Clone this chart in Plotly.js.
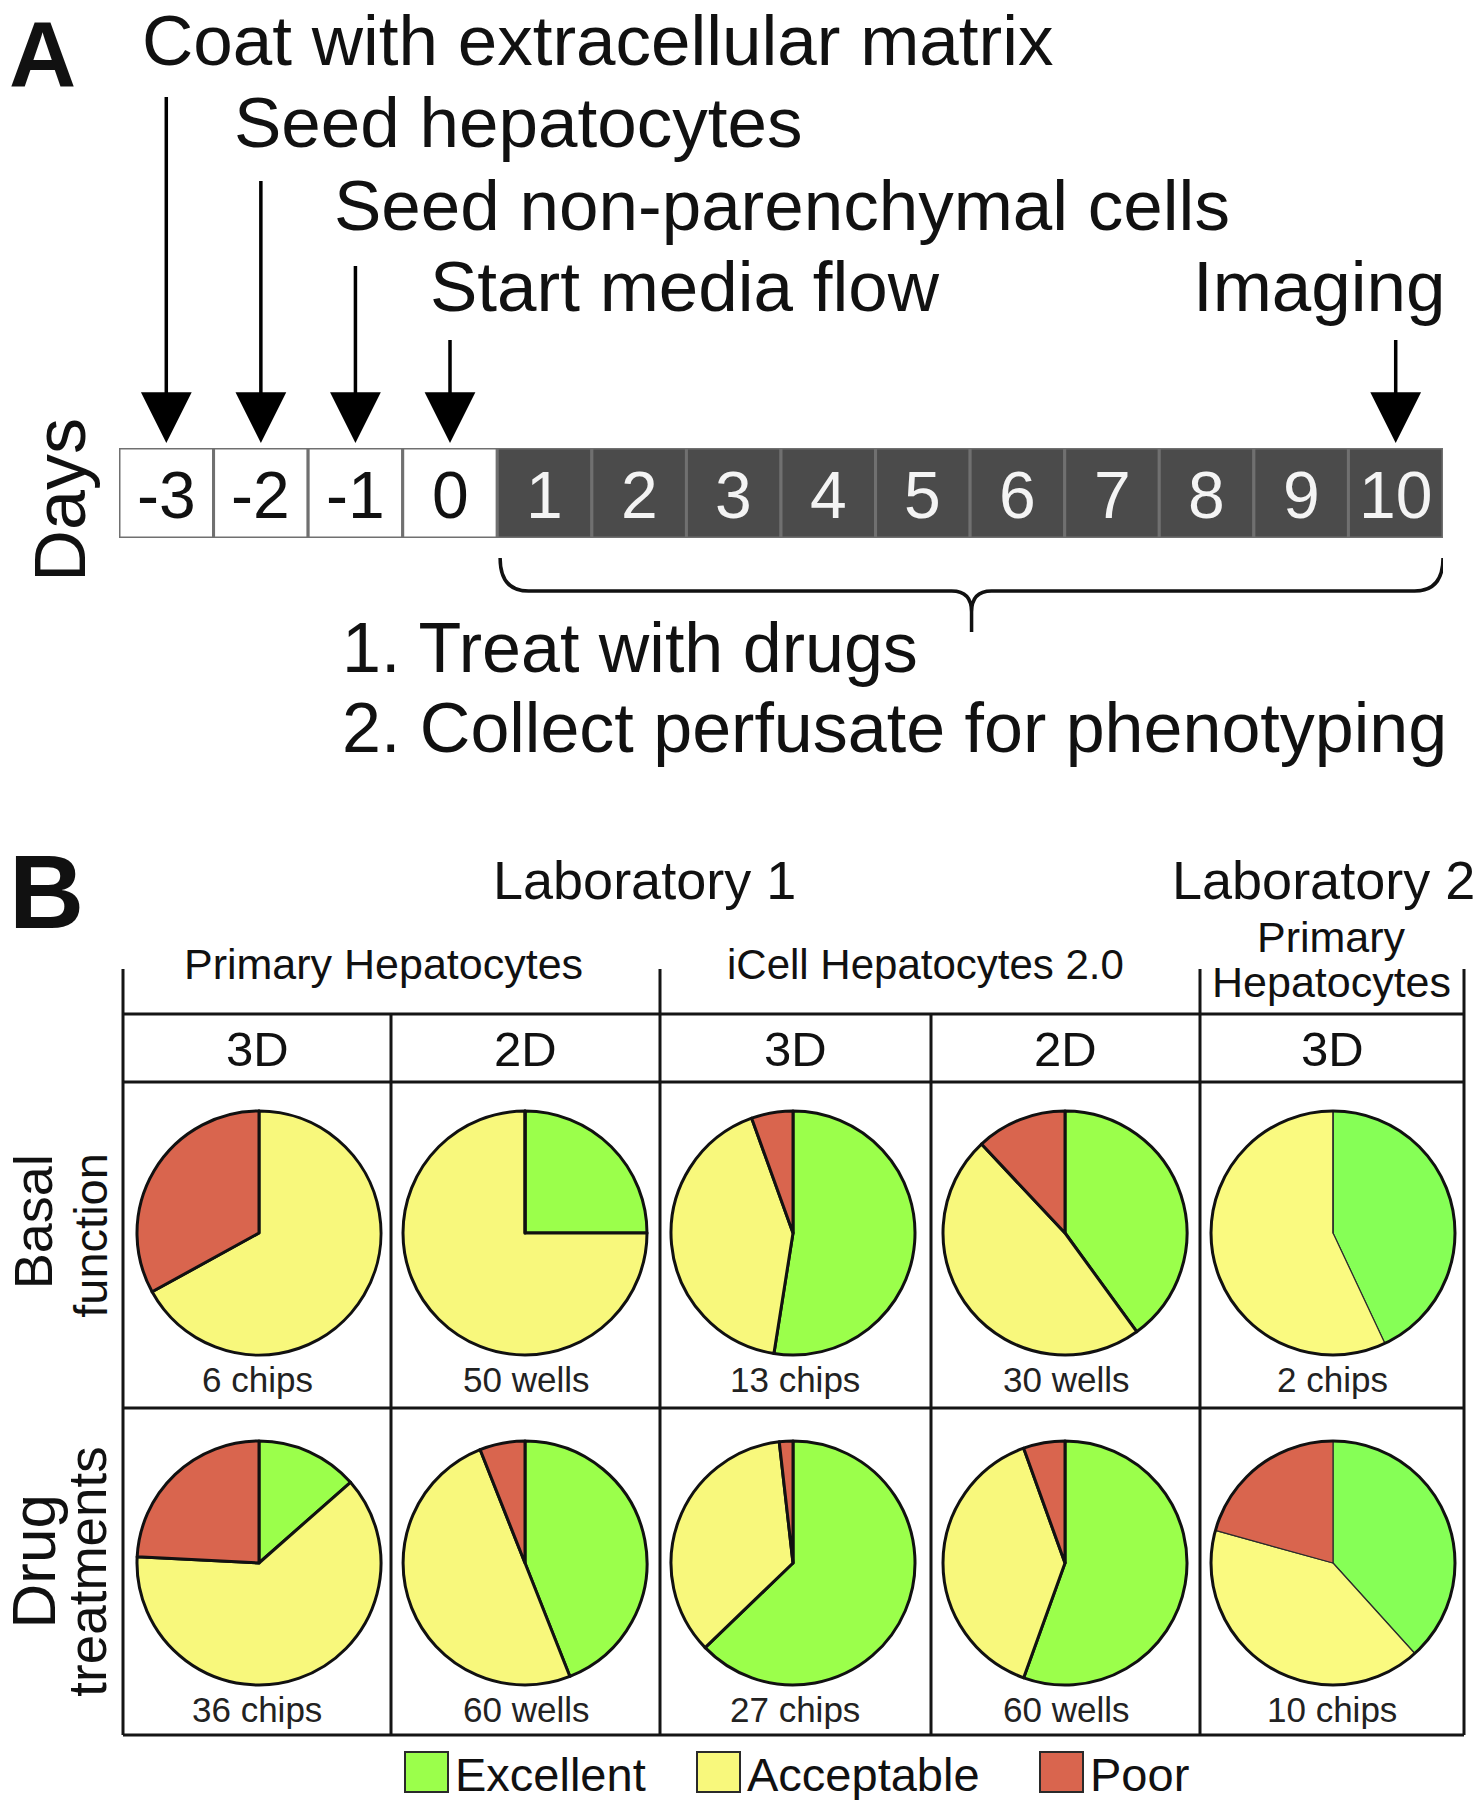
<!DOCTYPE html>
<html>
<head>
<meta charset="utf-8">
<script src="https://cdn.plot.ly/plotly-3.0.1.min.js"></script>
<style>
    html, body { margin: 0; padding: 0; background: #ffffff; }
    #myPlot { width: 1476px; height: 1800px; }
</style>
</head>
<body>
<div id="myPlot"></div>
<script>

// ---- Panel A : timeline ----
const days = [-3, -2, -1, 0, 1, 2, 3, 4, 5, 6, 7, 8, 9, 10];
const dayBarHeight = [1, 1, 1, 1, 1, 1, 1, 1, 1, 1, 1, 1, 1, 1];
const flowStartDay = 1;

const eventDays = [-3, -2, -1, 0, 10];
const eventLabels = ['Coat with extracellular matrix', 'Seed hepatocytes', 'Seed non-parenchymal cells', 'Start media flow', 'Imaging'];

const treatmentRange = [1, 10];
const treatmentSteps = ['1. Treat with drugs', '2. Collect perfusate for phenotyping'];

// ---- Panel B : quality pies ----
const qualityLabels = ['Excellent', 'Acceptable', 'Poor'];
const laboratories = ['Laboratory 1', 'Laboratory 2'];
const cellTypes = ['Primary Hepatocytes', 'iCell Hepatocytes 2.0', 'Primary', 'Hepatocytes'];
const formats = ['3D', '2D', '3D', '2D', '3D'];
const rowNames = [['Basal', 'function'], ['Drug', 'treatments']];

// percent of samples: [Excellent, Acceptable, Poor]
const basalValues = [[0, 67, 33], [25, 75, 0], [52.5, 42, 5.5], [40, 48, 12], [43, 57, 0]];
const drugValues = [[13.5, 62.3, 24.2], [44, 50, 6], [62.8, 35.4, 1.8], [55.5, 39, 5.5], [38.3, 41, 20.7]];
const basalCounts = ['6 chips', '50 wells', '13 chips', '30 wells', '2 chips'];
const drugCounts = ['36 chips', '60 wells', '27 chips', '60 wells', '10 chips'];


// ---- page geometry (pixels) ----
const W = 1476;
const H = 1800;
const FONT = 'Liberation Sans, Arial, Helvetica, sans-serif';

const colorsLab1 = ['#9bff4b', '#f8f87c', '#d9654e'];
const colorsLab2 = ['#86ff56', '#fafa80', '#d9654e'];

const stripLeft = 119;
const stripRight = 1443;
const stripTop = 448;
const stripBottom = 538;
const arrowTailY = [95, 179, 264, 338, 338];
const labelBase = [65, 147, 230, 311, 311];
const labelShift = [-26, -29, -23, -22, 52];

const colEdges = [123, 391, 660, 931, 1200, 1464];
const tableTop = 969;
const groupLine = 1014;
const formatLine = 1082;
const rowSplit = 1408;
const tableBottom = 1735;
const pieCx = [259, 525, 793, 1065, 1333];
const pieCy = [1233, 1563];
const pieR = 122;


function px(x) {
    return x / W;
}

function py(y) {
    return 1 - y / H;
}

// text whose baseline sits at y (page pixels)
function textAt(text, x, base, size, anchor, color) {
    return {
        text: text,
        xref: 'paper', yref: 'paper',
        x: px(x), y: py(base - 0.3465 * size),
        xanchor: anchor, yanchor: 'middle',
        showarrow: false,
        font: { family: FONT, size: size, color: color || '#111111' }
    };
}

// text turned 90 degrees, baseline at x, centered on y
function verticalText(text, xBase, yCenter, size) {
    return {
        text: text,
        xref: 'paper', yref: 'paper',
        x: px(xBase - 0.3465 * size), y: py(yCenter),
        xanchor: 'center', yanchor: 'middle',
        textangle: -90,
        showarrow: false,
        font: { family: FONT, size: size, color: '#111111' }
    };
}

function hLine(x0, x1, y) {
    return { type: 'line', xref: 'paper', yref: 'paper', x0: px(x0), x1: px(x1), y0: py(y), y1: py(y),
        line: { color: '#151515', width: 3 } };
}

function vLine(x, y0, y1) {
    return { type: 'line', xref: 'paper', yref: 'paper', x0: px(x), x1: px(x), y0: py(y0), y1: py(y1),
        line: { color: '#151515', width: 3 } };
}


let traces = [];
let annotations = [];
let shapes = [];


function buildTimeline() {

    traces.push({
        type: 'bar',
        x: days,
        y: dayBarHeight,
        width: 1,
        xaxis: 'x', yaxis: 'y',
        marker: {
            color: days.map(d => d < flowStartDay ? '#ffffff' : '#4b4b4b'),
            line: { color: '#707070', width: 3 }
        },
        cliponaxis: false,
        hoverinfo: 'none',
        showlegend: false
    });

    // day numbers inside the boxes
    days.forEach(function (d) {
        annotations.push({
            text: String(d),
            xref: 'x', yref: 'y',
            x: d, y: 0.5,
            yshift: -2,
            showarrow: false,
            font: { family: FONT, size: 66, color: d < flowStartDay ? '#111111' : '#f4f4f4' }
        });
    });

    // arrows + event text
    eventDays.forEach(function (d, i) {
        annotations.push({
            text: ' ',
            font: { size: 1 },
            xref: 'x', yref: 'y',
            x: d, y: 1,
            ax: 0, ay: arrowTailY[i] - stripTop,
            showarrow: true,
            arrowhead: 2,
            arrowsize: 2.9,
            arrowwidth: 3.5,
            arrowcolor: '#000000',
            standoff: 5
        });

        const isLast = (i === eventDays.length - 1);
        annotations.push({
            text: eventLabels[i],
            xref: 'x', yref: 'paper',
            x: d, xshift: labelShift[i],
            y: py(labelBase[i] - 0.3465 * 71),
            xanchor: isLast ? 'right' : 'left',
            yanchor: 'middle',
            showarrow: false,
            font: { family: FONT, size: 71, color: '#111111' }
        });
    });

    annotations.push(verticalText('Days', 85, 500, 72));

    // curly brace under the flow days
    const x0 = treatmentRange[0] - 0.47;
    const x1 = treatmentRange[1] + 0.5;
    const xm = (x0 + x1) / 2;
    const rc = 0.3;
    const rm = 0.21;
    const yTop = py(558);
    const yLine = py(591);
    const yJoin = py(612);
    const yTip = py(632);
    shapes.push({
        type: 'path',
        xref: 'x', yref: 'paper',
        path: 'M' + x0 + ',' + yTop + ' Q' + x0 + ',' + yLine + ' ' + (x0 + rc) + ',' + yLine +
            ' L' + (xm - rm) + ',' + yLine + ' Q' + xm + ',' + yLine + ' ' + xm + ',' + yJoin +
            ' L' + xm + ',' + yTip +
            ' M' + xm + ',' + yJoin + ' Q' + xm + ',' + yLine + ' ' + (xm + rm) + ',' + yLine +
            ' L' + (x1 - rc) + ',' + yLine + ' Q' + x1 + ',' + yLine + ' ' + x1 + ',' + yTop,
        fillcolor: 'rgba(0,0,0,0)',
        line: { color: '#111111', width: 3.5 }
    });

    annotations.push(textAt(treatmentSteps[0], 340, 672, 70, 'left'));
    annotations.push(textAt(treatmentSteps[1], 340, 752, 70, 'left'));

    annotations.push(textAt('<b>A</b>', 7, 86, 93, 'left'));
}


function buildPies() {

    const rows = [basalValues, drugValues];
    const counts = [basalCounts, drugCounts];
    const countBase = [1392, 1722];

    rows.forEach(function (rowValues, r) {
        rowValues.forEach(function (v, c) {
            const cx = pieCx[c];
            const cy = pieCy[r];
            const lab2 = (c === 4);
            traces.push({
                type: 'pie',
                values: v,
                labels: qualityLabels,
                sort: false,
                direction: 'clockwise',
                rotation: 0,
                textinfo: 'none',
                hoverinfo: 'none',
                showlegend: false,
                domain: { x: [px(cx - pieR), px(cx + pieR)], y: [py(cy + pieR), py(cy - pieR)] },
                marker: {
                    colors: lab2 ? colorsLab2 : colorsLab1,
                    line: { color: lab2 ? '#2b2b2b' : '#111111', width: lab2 ? 1.2 : 3 }
                }
            });
            if (lab2) {
                shapes.push({
                    type: 'circle', xref: 'paper', yref: 'paper',
                    x0: px(cx - pieR), x1: px(cx + pieR), y0: py(cy + pieR), y1: py(cy - pieR),
                    line: { color: '#111111', width: 3 }
                });
            }
            annotations.push(textAt(counts[r][c], (colEdges[c] + colEdges[c + 1]) / 2, countBase[r], 35, 'center', '#222222'));
        });
    });

    // table grid
    shapes.push(vLine(colEdges[0], tableTop, tableBottom));
    shapes.push(vLine(colEdges[2], tableTop, tableBottom));
    shapes.push(vLine(colEdges[4], tableTop, tableBottom));
    shapes.push(vLine(colEdges[5], tableTop, tableBottom));
    shapes.push(vLine(colEdges[1], groupLine, tableBottom));
    shapes.push(vLine(colEdges[3], groupLine, tableBottom));
    shapes.push(hLine(colEdges[0], colEdges[5], groupLine));
    shapes.push(hLine(colEdges[0], colEdges[5], formatLine));
    shapes.push(hLine(colEdges[0], colEdges[5], rowSplit));
    shapes.push(hLine(colEdges[0], colEdges[5], tableBottom));

    // headers
    annotations.push(textAt('<b>B</b>', 7, 928, 104, 'left'));
    annotations.push(textAt(laboratories[0], 644, 899, 54, 'center'));
    annotations.push(textAt(laboratories[1], 1323, 899, 54, 'center'));
    annotations.push(textAt(cellTypes[0], 383, 979, 43, 'center'));
    annotations.push(textAt(cellTypes[1], 925, 979, 42, 'center'));
    annotations.push(textAt(cellTypes[2], 1331, 952, 43, 'center'));
    annotations.push(textAt(cellTypes[3], 1331, 997, 43, 'center'));

    formats.forEach(function (f, c) {
        annotations.push(textAt(f, (colEdges[c] + colEdges[c + 1]) / 2, 1066, 49, 'center'));
    });

    annotations.push(verticalText(rowNames[0][0], 52, 1222, 54));
    annotations.push(verticalText(rowNames[0][1], 106, 1235, 47));
    annotations.push(verticalText(rowNames[1][0], 54, 1562, 62));
    annotations.push(verticalText(rowNames[1][1], 105, 1572, 53));

    // legend
    const boxLeft = [405, 697, 1040];
    qualityLabels.forEach(function (name, i) {
        shapes.push({
            type: 'rect', xref: 'paper', yref: 'paper',
            x0: px(boxLeft[i]), x1: px(boxLeft[i] + 43), y0: py(1792), y1: py(1752),
            fillcolor: colorsLab1[i],
            line: { color: '#2a2a2a', width: 2 }
        });
        annotations.push(textAt(name, boxLeft[i] + 48, 1791, 47, 'left'));
    });
}


function main() {

    buildTimeline();
    buildPies();

    const layout = {
        width: W,
        height: H,
        autosize: false,
        margin: { l: 0, r: 0, t: 0, b: 0, pad: 0 },
        paper_bgcolor: '#ffffff',
        plot_bgcolor: 'rgba(0,0,0,0)',
        bargap: 0,
        xaxis: {
            domain: [px(stripLeft), px(stripRight)],
            range: [-3.5, 10.5],
            visible: false,
            fixedrange: true
        },
        yaxis: {
            domain: [py(stripBottom), py(stripTop)],
            range: [0, 1],
            visible: false,
            fixedrange: true
        },
        annotations: annotations,
        shapes: shapes
    };

    Plotly.newPlot('myPlot', traces, layout, { staticPlot: true, displayModeBar: false });
}

main();
</script>
</body>
</html>
